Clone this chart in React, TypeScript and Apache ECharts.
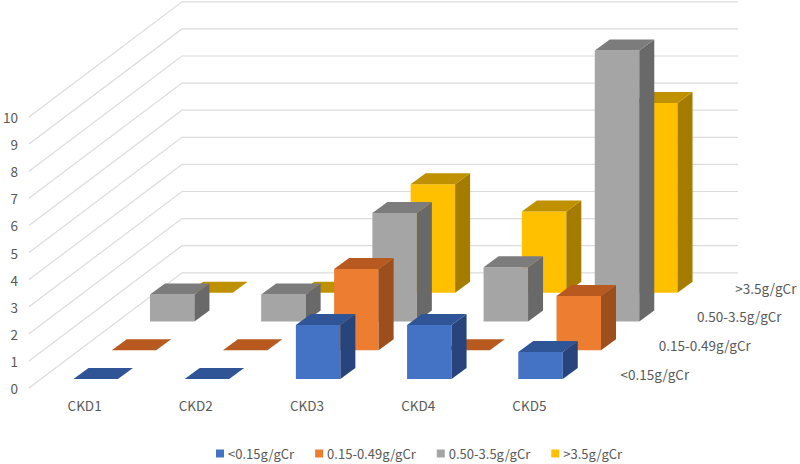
import React, { useEffect, useRef } from "react";
import * as echarts from "echarts";

const categories = ["CKD1", "CKD2", "CKD3", "CKD4", "CKD5"];
const seriesNames = ["<0.15g/gCr", "0.15-0.49g/gCr", "0.50-3.5g/gCr", ">3.5g/gCr"];
const valuesLow = [0, 0, 2, 2, 1];
const valuesMid = [0, 0, 3, 0, 2];
const valuesHigh = [1, 1, 4, 2, 10];
const valuesTop = [0, 0, 4, 3, 7];
const gridTicks = [0, 1, 2, 3, 4, 5, 6, 7, 8, 9, 10];

const rowValues = [valuesLow, valuesMid, valuesHigh, valuesTop];
const frontColors = ["#4472C4", "#ED7D31", "#A5A5A5", "#FFC000"];
const topColors = ["#2F5597", "#B85A1F", "#7C7C7C", "#BF9000"];
const sideColors = ["#27457C", "#9C4E1C", "#696969", "#A67C00"];

const FONT = '"Noto Sans CJK JP", "Noto Sans", sans-serif';
const TEXT = "#595959";
const FONT_SIZE = 13.5;
const STEP_X = 38.25;
const STEP_Y = 28.8;
const BAR_W = 0.4;
const DEPTH_X = 15;
const DEPTH_Y = 11;

function renderBar(row: number) {
  return (_: any, api: any) => {
    const cat = api.value(0);
    const base = api.coord([cat, 0]);
    const top = api.coord([cat, api.value(1)]);
    const w = api.size([1, 0])[0] * BAR_W;
    const ox = (row + 0.5) * STEP_X - w / 2 - DEPTH_X / 2 - 0.5;
    const oy = -(row + 0.5) * STEP_Y + DEPTH_Y / 2;
    const l = base[0] + ox;
    const r = l + w;
    const b = base[1] + oy;
    const t = top[1] + oy;
    const poly = (points: number[][], fill: string) => ({
      type: "polygon",
      shape: { points },
      style: { fill },
    });
    return {
      type: "group",
      children: [
        poly([[l, b], [r, b], [r, t], [l, t]], frontColors[row]),
        poly([[r, b], [r + DEPTH_X, b - DEPTH_Y], [r + DEPTH_X, t - DEPTH_Y], [r, t]], sideColors[row]),
        poly([[l, t], [r, t], [r + DEPTH_X, t - DEPTH_Y], [l + DEPTH_X, t - DEPTH_Y]], topColors[row]),
      ],
    };
  };
}

function renderWall(_: any, api: any) {
  const v = api.value(0);
  const bw = api.size([1, 0])[0];
  const first = api.coord([0, v]);
  const x0 = first[0] - bw / 2;
  const y = first[1];
  const x1 = x0 + bw * categories.length;
  const dx = STEP_X * seriesNames.length;
  const dy = STEP_Y * seriesNames.length;
  return {
    type: "polyline",
    shape: { points: [[x0, y], [x0 + dx, y - dy], [x1 + dx, y - dy]] },
    style: { fill: "none", stroke: "#DCDCDC", lineWidth: 1.2 },
  };
}

function renderRowLabel(_: any, api: any) {
  const row = api.value(0);
  const bw = api.size([1, 0])[0];
  const p = api.coord([categories.length - 1, 0]);
  return {
    type: "text",
    style: {
      text: seriesNames[row],
      x: p[0] + bw / 2 + 35.5 + row * STEP_X,
      y: p[1] - 14 - row * STEP_Y,
      align: "left",
      verticalAlign: "middle",
      fill: TEXT,
      font: `${FONT_SIZE}px ${FONT}`,
    },
  };
}

export default function App() {
  const ref = useRef<HTMLDivElement>(null);
  useEffect(() => {
    const chart = echarts.init(ref.current!, undefined, { renderer: "svg" });
    chart.setOption({
      animation: false,
      backgroundColor: "#FFFFFF",
      textStyle: { fontFamily: FONT },
      grid: { left: 27, top: 117, width: 558, height: 271 },
      legend: {
        data: seriesNames,
        left: 216,
        top: 447,
        padding: 0,
        itemWidth: 8,
        itemHeight: 8,
        itemGap: 21,
        icon: "rect",
        selectedMode: false,
        textStyle: { color: TEXT, fontSize: 13, fontFamily: FONT, padding: [0, 0, 0, -1] },
      },
      xAxis: {
        type: "category",
        data: categories,
        axisLine: { show: false },
        axisTick: { show: false },
        axisLabel: { color: TEXT, fontSize: FONT_SIZE, fontFamily: FONT, margin: 10 },
      },
      yAxis: {
        type: "value",
        min: 0,
        max: 10,
        interval: 1,
        splitLine: { show: false },
        axisLine: { show: false },
        axisTick: { show: false },
        axisLabel: { color: TEXT, fontSize: FONT_SIZE, fontFamily: FONT, margin: 11 },
      },
      series: [
        {
          type: "custom",
          name: "walls",
          z: 1,
          silent: true,
          clip: false,
          renderItem: renderWall,
          encode: { y: 0 },
          data: gridTicks.map((v) => [v]),
        },
        ...[3, 2, 1, 0].map((row) => ({
          type: "custom",
          name: seriesNames[row],
          z: 5 - row + 1,
          clip: false,
          itemStyle: { color: frontColors[row] },
          renderItem: renderBar(row),
          encode: { x: 0, y: 1 },
          data: rowValues[row].map((v, i) => [i, v]),
        })),
        {
          type: "custom",
          name: "rows",
          z: 10,
          silent: true,
          clip: false,
          renderItem: renderRowLabel,
          encode: {},
          data: seriesNames.map((_, i) => [i]),
        },
      ],
    });
    return () => chart.dispose();
  }, []);
  return <div ref={ref} style={{ position: "absolute", left: 0, top: 0, width: 800, height: 464 }} />;
}
